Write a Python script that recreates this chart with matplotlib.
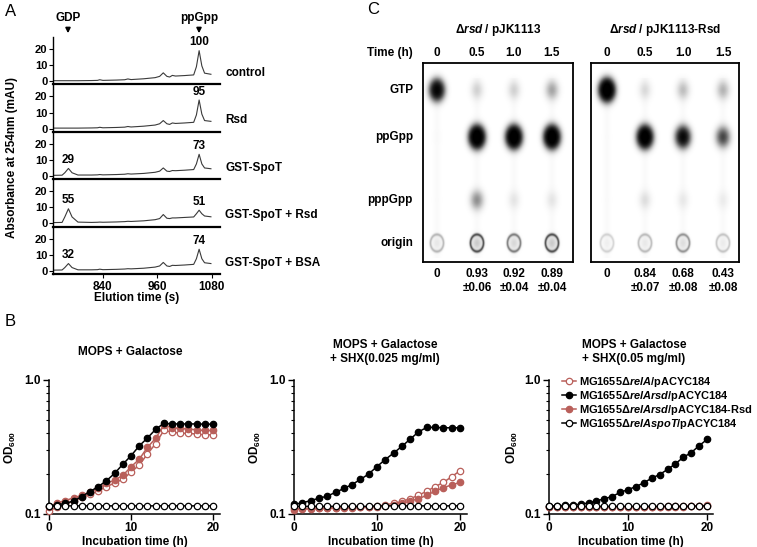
import matplotlib
matplotlib.use("Agg")
import matplotlib.pyplot as plt
import numpy as np
from matplotlib.ticker import FixedLocator, NullFormatter, FixedFormatter

plt.rcParams['font.family'] = ['Liberation Sans', 'DejaVu Sans']
plt.rcParams['font.weight'] = 'bold'
plt.rcParams['axes.labelweight'] = 'bold'
plt.rcParams['mathtext.fontset'] = 'custom'
plt.rcParams['mathtext.rm'] = 'Liberation Sans:bold'
plt.rcParams['mathtext.it'] = 'Liberation Sans:italic:bold'
plt.rcParams['mathtext.bf'] = 'Liberation Sans:bold'

# ---- panel A: HPLC traces ----
samples = ['control', 'Rsd', 'GST-SpoT', 'GST-SpoT + Rsd', 'GST-SpoT + BSA']
gdp_pct = [None, None, 29, 55, 32]
ppgpp_pct = [100, 95, 73, 51, 74]
elution_t = [731, 750, 756, 764, 772, 785, 815, 828, 833, 840, 870, 888, 895, 902, 930,
             955, 965, 973, 981, 987, 993, 1000, 1020, 1040, 1046, 1052, 1058, 1064, 1078]
abs_control = [0.3, 0.3, 0.3, 0.3, 0.3, 0.3, 0.4, 0.5, 0.9, 0.5, 0.7, 0.9, 1.4, 1.0, 1.5,
               2.2, 3.0, 5.2, 3.0, 2.6, 3.6, 3.2, 3.5, 3.9, 9.0, 19.0, 9.5, 5.0, 4.3]
abs_rsd = [0.3, 0.3, 0.3, 0.3, 0.3, 0.3, 0.4, 0.5, 0.8, 0.5, 0.7, 0.9, 1.3, 1.0, 1.5,
           2.2, 3.0, 5.0, 3.0, 2.6, 3.5, 3.2, 3.5, 3.9, 8.5, 17.8, 9.0, 5.0, 4.5]
abs_spot = [0.4, 0.5, 2.0, 4.7, 2.0, 0.6, 0.6, 0.7, 0.9, 0.7, 0.9, 1.1, 1.4, 1.2, 1.6,
            2.3, 3.0, 5.0, 3.0, 2.8, 3.4, 3.3, 3.6, 4.0, 7.5, 13.5, 7.5, 5.0, 4.5]
abs_spot_rsd = [0.5, 0.6, 4.0, 9.1, 4.0, 0.8, 0.6, 0.7, 0.8, 0.7, 0.9, 1.1, 1.3, 1.2, 1.6,
                2.3, 3.0, 5.5, 3.2, 3.0, 3.4, 3.4, 3.7, 4.0, 6.0, 8.2, 6.0, 4.6, 4.1]
abs_spot_bsa = [0.4, 0.5, 2.0, 4.5, 2.0, 0.6, 0.6, 0.7, 1.0, 0.7, 0.9, 1.1, 1.3, 1.2, 1.6,
                2.3, 3.0, 5.2, 3.0, 2.7, 3.4, 3.3, 3.6, 4.0, 7.5, 13.4, 7.5, 5.0, 4.5]
traces = [abs_control, abs_rsd, abs_spot, abs_spot_rsd, abs_spot_bsa]

# ---- panel C: TLC ----
tlc_rows = ['GTP', 'ppGpp', 'pppGpp', 'origin']
tlc_times = ['0', '0.5', '1.0', '1.5']
tlc_titles = ['\u0394$\\mathit{rsd}$ / pJK1113', '\u0394$\\mathit{rsd}$ / pJK1113-Rsd']
# spot darkness per row (GTP, ppGpp, pppGpp, origin) and lane
tlc_left = [[0.75, 0.17, 0.17, 0.26],
            [0.03, 1.00, 1.00, 1.00],
            [0.02, 0.30, 0.12, 0.12],
            [0.30, 0.75, 0.55, 0.75]]
tlc_right = [[1.00, 0.15, 0.21, 0.23],
             [0.02, 0.95, 0.70, 0.45],
             [0.02, 0.14, 0.11, 0.10],
             [0.18, 0.28, 0.45, 0.24]]
ratio_left = ['0', '0.93\n\u00b10.06', '0.92\n\u00b10.04', '0.89\n\u00b10.04']
ratio_right = ['0', '0.84\n\u00b10.07', '0.68\n\u00b10.08', '0.43\n\u00b10.08']

# ---- panel B: growth curves ----
hours = list(range(21))
b_titles = ['MOPS + Galactose', 'MOPS + Galactose\n+ SHX(0.025 mg/ml)',
            'MOPS + Galactose\n+ SHX(0.05 mg/ml)']
strains = ['MG1655\u0394$\\mathit{relA}$/pACYC184',
           'MG1655\u0394$\\mathit{relArsd}$/pACYC184',
           'MG1655\u0394$\\mathit{relArsd}$/pACYC184-Rsd',
           'MG1655\u0394$\\mathit{relAspoT}$/pACYC184']
od_gal = [
    [0.105, 0.113, 0.118, 0.125, 0.133, 0.140, 0.148, 0.160, 0.170, 0.182, 0.205,
     0.232, 0.280, 0.335, 0.420, 0.410, 0.400, 0.400, 0.395, 0.390, 0.390],
    [0.115, 0.117, 0.120, 0.125, 0.135, 0.147, 0.160, 0.177, 0.201, 0.235, 0.272,
     0.322, 0.369, 0.428, 0.475, 0.470, 0.470, 0.470, 0.470, 0.468, 0.468],
    [0.113, 0.121, 0.126, 0.132, 0.138, 0.146, 0.155, 0.169, 0.179, 0.194, 0.225,
     0.256, 0.314, 0.367, 0.459, 0.440, 0.435, 0.430, 0.425, 0.420, 0.420],
    [0.114, 0.115, 0.115, 0.115, 0.115, 0.115, 0.115, 0.115, 0.115, 0.115, 0.115,
     0.115, 0.115, 0.115, 0.115, 0.115, 0.115, 0.115, 0.115, 0.115, 0.115]]
od_shx025 = [
    [0.110, 0.110, 0.110, 0.111, 0.111, 0.111, 0.112, 0.112, 0.113, 0.113, 0.114,
     0.117, 0.120, 0.124, 0.130, 0.138, 0.148, 0.160, 0.172, 0.190, 0.210],
    [0.118, 0.121, 0.126, 0.131, 0.136, 0.145, 0.155, 0.166, 0.181, 0.199, 0.226,
     0.255, 0.285, 0.320, 0.362, 0.410, 0.443, 0.443, 0.440, 0.440, 0.440],
    [0.108, 0.109, 0.109, 0.110, 0.110, 0.111, 0.111, 0.111, 0.112, 0.112, 0.113,
     0.115, 0.117, 0.120, 0.125, 0.130, 0.138, 0.148, 0.157, 0.165, 0.172],
    [0.114, 0.114, 0.114, 0.114, 0.114, 0.114, 0.114, 0.114, 0.114, 0.114, 0.115,
     0.115, 0.115, 0.115, 0.115, 0.115, 0.115, 0.115, 0.115, 0.115, 0.115]]
od_shx05 = [
    [0.113, 0.113, 0.113, 0.113, 0.113, 0.113, 0.113, 0.113, 0.113, 0.113, 0.113,
     0.113, 0.113, 0.113, 0.113, 0.114, 0.114, 0.114, 0.115, 0.115, 0.116],
    [0.115, 0.115, 0.116, 0.117, 0.118, 0.121, 0.125, 0.130, 0.135, 0.145, 0.152,
     0.160, 0.171, 0.185, 0.197, 0.215, 0.237, 0.265, 0.287, 0.323, 0.360],
    [0.113, 0.113, 0.113, 0.113, 0.113, 0.113, 0.113, 0.113, 0.113, 0.113, 0.113,
     0.113, 0.113, 0.113, 0.113, 0.113, 0.113, 0.113, 0.114, 0.114, 0.114],
    [0.114, 0.114, 0.114, 0.114, 0.114, 0.114, 0.114, 0.114, 0.114, 0.114, 0.114,
     0.114, 0.114, 0.114, 0.114, 0.114, 0.114, 0.114, 0.114, 0.115, 0.115]]
od_sets = [od_gal, od_shx025, od_shx05]

RED = '#b95f5a'
strain_style = [dict(color=RED, mfc='white', mec=RED),
                dict(color='black', mfc='black', mec='black'),
                dict(color=RED, mfc=RED, mec=RED),
                dict(color='black', mfc='white', mec='black')]

W, H = 757, 547
fig = plt.figure(figsize=(W / 100, H / 100), dpi=100)


def box(x0, y0, x1, y1):
    return [x0 / W, 1 - y1 / H, (x1 - x0) / W, (y1 - y0) / H]


def put(x, y, s, **kw):
    kw.setdefault('ha', 'center')
    kw.setdefault('va', 'center')
    fig.text(x / W, 1 - y / H, s, **kw)


# panel letters
put(5, 12, 'A', fontsize=12, fontweight='normal', ha='left')
put(367, 10, 'C', fontsize=12, fontweight='normal', ha='left')
put(5, 322, 'B', fontsize=12, fontweight='normal', ha='left')

# ---------------- panel A ----------------
a_top, a_bot = 37, 274
hgt = (a_bot - a_top) / len(samples)
for i, (name, tr) in enumerate(zip(samples, traces)):
    ax = fig.add_axes(box(53, a_top + i * hgt, 220, a_top + (i + 1) * hgt))
    ax.patch.set_alpha(0)
    ax.plot(elution_t, tr, color='#3a3a3a', lw=0.8)
    ax.set_xlim(730, 1098)
    ax.set_ylim(-2, 27.5)
    for s in ['top', 'right']:
        ax.spines[s].set_visible(False)
    ax.spines['bottom'].set_linewidth(1.6)
    ax.spines['left'].set_linewidth(1.0)
    ax.set_yticks([0, 10, 20])
    ax.tick_params(axis='y', direction='out', length=3, width=0.8, labelsize=8, pad=1)
    if i < len(samples) - 1:
        ax.set_xticks([])
    else:
        ax.set_xticks([840, 960, 1080])
        ax.tick_params(axis='x', direction='out', length=3, width=0.8, labelsize=8.5, pad=2)
    ax.text(1.03, 0.24, name, transform=ax.transAxes, ha='left', va='center', fontsize=8.5)
    j = int(np.argmax(tr[20:])) + 20
    ax.text(elution_t[j], tr[j] + 1.5, str(ppgpp_pct[i]), ha='center', va='bottom', fontsize=8.5)
    if gdp_pct[i] is not None:
        k = int(np.argmax(tr[:10]))
        ax.text(elution_t[k], tr[k] + 1.5, str(gdp_pct[i]), ha='center', va='bottom', fontsize=8.5)

put(12, 157, 'Absorbance at 254nm (mAU)', rotation=90, fontsize=8.5)
put(137, 298, 'Elution time (s)', fontsize=8.5)
for lab, x in [('GDP', 68), ('ppGpp', 199)]:
    fig.text(x / W, 1 - 18 / H, lab, ha='center', va='center', fontsize=8.5)
    fig.add_artist(matplotlib.patches.FancyArrowPatch(
        (x / W, 1 - 25 / H), (x / W, 1 - 36 / H), transform=fig.transFigure,
        arrowstyle='-|>', mutation_scale=7, color='black', lw=1.2))

# ---------------- panel C ----------------
row_y = [27, 74, 137, 180]
tlc_boxes = [(423, 63, 573, 262, [14, 54, 91, 129], tlc_left, ratio_left),
             (591, 63, 739, 262, [16, 54, 92, 132], tlc_right, ratio_right)]
for bi, (x0, y0, x1, y1, lanes, spots, ratios) in enumerate(tlc_boxes):
    w, h = x1 - x0, y1 - y0
    yy, xx = np.mgrid[0:h, 0:w].astype(float) + 0.5
    dark = np.zeros((h, w))
    for lx in lanes:
        dark += 0.02 * np.exp(-((xx - lx) / 4.0) ** 2) * (yy > 15) * (yy < 195)
    for r, ry in enumerate(row_y):
        for lx, v in zip(lanes, spots[r]):
            if tlc_rows[r] == 'origin':
                rr = np.sqrt(((xx - lx) / 6.5) ** 2 + ((yy - ry) / 8.5) ** 2)
                dark += v * (0.8 * np.exp(-((rr - 1.0) / 0.18) ** 2) + 0.25 * np.exp(-rr ** 2 / 0.7))
            else:
                g = np.exp(-0.5 * (((xx - lx) / 4.2) ** 2 + ((yy - ry) / 6.0) ** 2))
                dark += 1 - np.exp(-6.0 * v * v * g)
    ax = fig.add_axes(box(x0, y0, x1, y1))
    ax.imshow(np.clip(dark, 0, 1), cmap='gray_r', vmin=0, vmax=1, extent=[0, w, h, 0],
              aspect='auto', interpolation='bilinear')
    ax.set_xticks([])
    ax.set_yticks([])
    for s in ax.spines.values():
        s.set_linewidth(1.3)
    put((x0 + x1) / 2, 30, tlc_titles[bi], fontsize=8.5)
    for lx, t, rt in zip(lanes, tlc_times, ratios):
        put(x0 + lx, 53, t, fontsize=8.5)
        put(x0 + lx, 268, rt, fontsize=8.5, va='top', linespacing=1.2)

put(413, 53, 'Time (h)', fontsize=8.5, ha='right')
for name, ry in zip(tlc_rows, row_y):
    put(413, 63 + ry, name, fontsize=8.5, ha='right')

# ---------------- panel B ----------------
b_boxes = [(49, 220, 213), (294, 467, 460), (549, 713, 707)]
b_title_x = [130, 385, 634]
b_ylab_x = [10, 255, 512]
for pi, ((x0, x1, x20), ods) in enumerate(zip(b_boxes, od_sets)):
    ax = fig.add_axes(box(x0, 380, x1, 514))
    ax.patch.set_alpha(0)
    for si, (vals, st) in enumerate(zip(ods, strain_style)):
        ax.plot(hours, vals, marker='o', ms=4.6, lw=1.1, mew=0.9, clip_on=False,
                label=strains[si], zorder=3 + (si in (1, 3)), **st)
    ax.set_yscale('log')
    ax.set_ylim(0.1, 1.0)
    ax.set_xlim(0, 20 * (x1 - x0) / (x20 - x0))
    ax.set_xticks([0, 10, 20])
    ax.yaxis.set_major_locator(FixedLocator([0.1, 1.0]))
    ax.yaxis.set_major_formatter(FixedFormatter(['0.1', '1.0']))
    ax.yaxis.set_minor_locator(FixedLocator([0.2, 0.3, 0.4, 0.5, 0.6, 0.7, 0.8, 0.9]))
    ax.yaxis.set_minor_formatter(NullFormatter())
    for s in ['top', 'right']:
        ax.spines[s].set_visible(False)
    for s in ['left', 'bottom']:
        ax.spines[s].set_linewidth(1.1)
    ax.tick_params(which='major', direction='out', length=4, width=1, labelsize=8.5, pad=2)
    ax.tick_params(which='minor', direction='out', length=2.5, width=0.8)
    ax.set_xlabel('Incubation time (h)', fontsize=8.5, labelpad=1)
    put(b_ylab_x[pi], 447, 'OD$_{600}$', rotation=90, fontsize=8.5)
    put(b_title_x[pi], 352, b_titles[pi], fontsize=8.5, linespacing=1.3)
    if pi == 2:
        ax.legend(loc='upper left', bbox_to_anchor=(0.08, 1.035), frameon=False, fontsize=7.9,
                  handlelength=1.3, handletextpad=0.2, labelspacing=0.0,
                  borderaxespad=0, borderpad=0)

fig.savefig('out.png', dpi=100)
